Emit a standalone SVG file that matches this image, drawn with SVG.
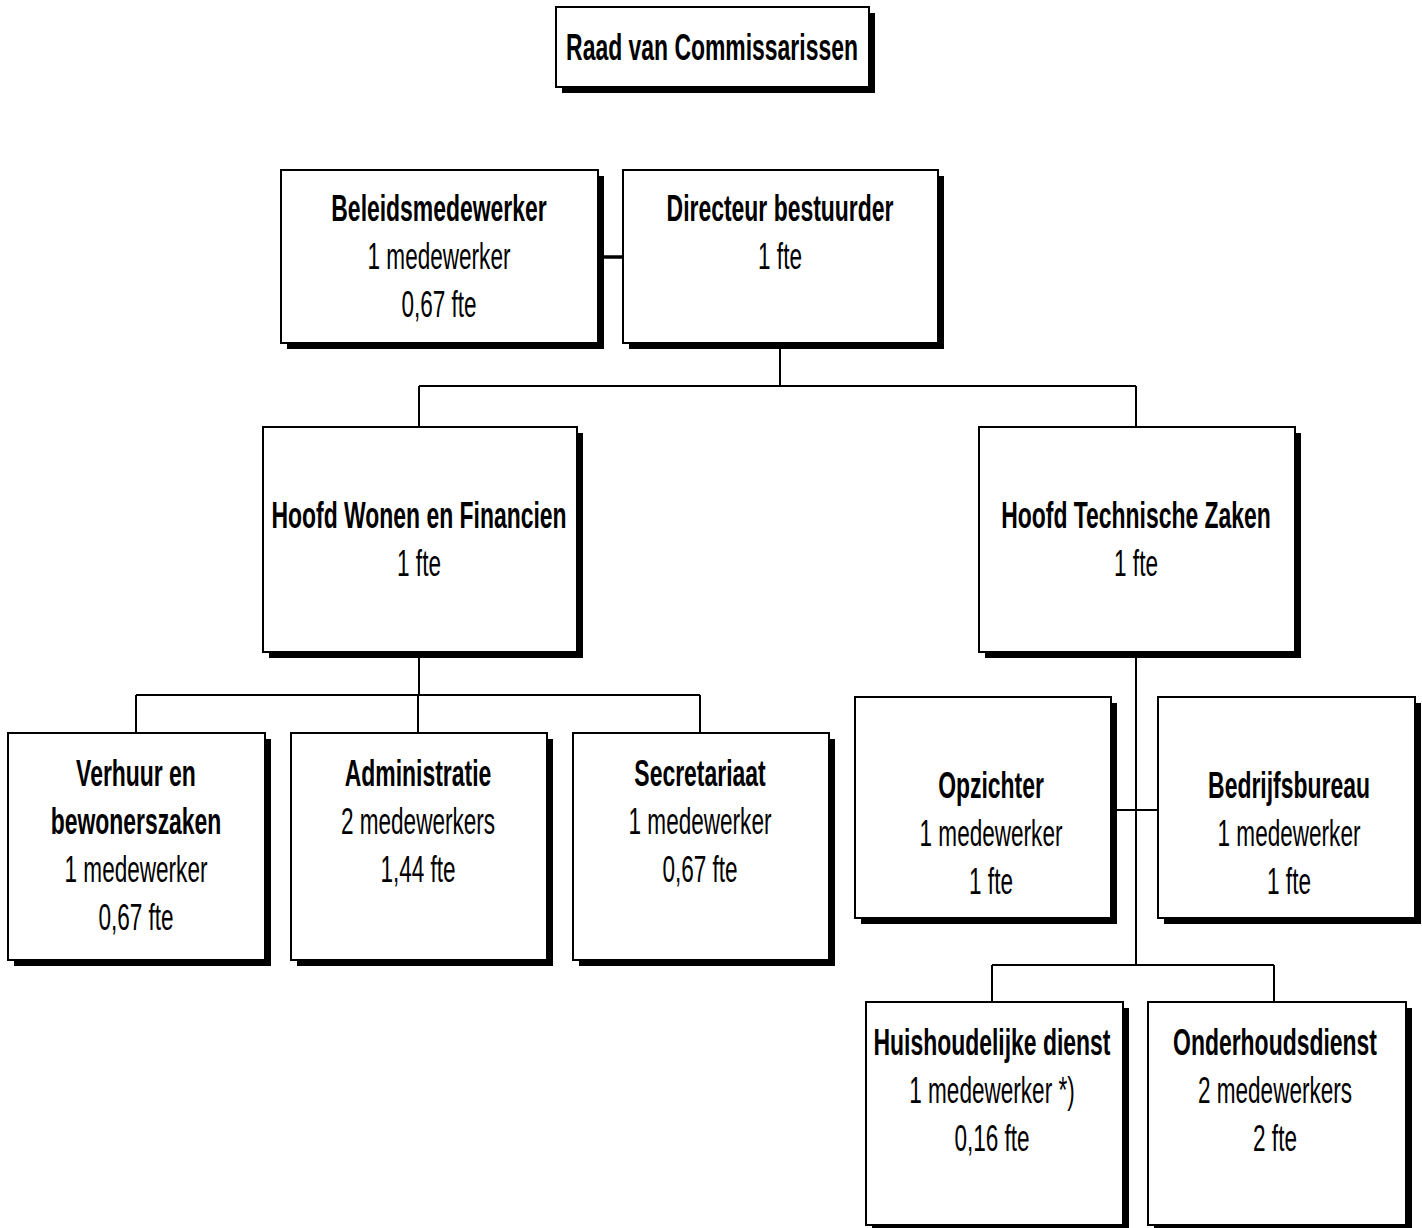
<svg xmlns="http://www.w3.org/2000/svg" width="1422" height="1228" viewBox="0 0 1422 1228">
<style>
.sh{fill:#000}
.bx{fill:#fff;stroke:#000;stroke-width:2}
text{font-family:"Liberation Sans",Arial,sans-serif;font-size:37px;text-anchor:middle;fill:#000}
.b{font-weight:bold}
.ln{fill:none;stroke:#000;stroke-width:2}
.thk{fill:none;stroke:#000;stroke-width:3.5}
</style>
<rect width="1422" height="1228" fill="#fff"/>
<g id="connectors">
<path class="ln" d="M780 343V386M419 386H1136M419 386V427M1136 386V427"/>
<path class="thk" d="M598 257H628"/>
<path class="ln" d="M419 652V695M136 695H700M136 695V733M418 695V733M700 695V733"/>
<path class="ln" d="M1136 652V965M1111 810H1158M992 965H1274M992 965V1002M1274 965V1002"/>
</g>
<g id="raad"><rect class="sh" x="562" y="13" width="313" height="80"/><rect class="bx" x="556" y="7" width="313" height="80"/><text class="b" transform="matrix(0.62 0 0 1 712 60)">Raad van Commissarissen</text></g>
<g id="beleid"><rect class="sh" x="287" y="176" width="317" height="173"/><rect class="bx" x="281" y="170" width="317" height="173"/><text class="b" transform="matrix(0.62 0 0 1 439 221)">Beleidsmedewerker</text><text transform="matrix(0.61 0 0 1 439 269)">1 medewerker</text><text transform="matrix(0.61 0 0 1 439 317)">0,67 fte</text></g>
<g id="directeur"><rect class="sh" x="629" y="176" width="315" height="173"/><rect class="bx" x="623" y="170" width="315" height="173"/><text class="b" transform="matrix(0.62 0 0 1 780 221)">Directeur bestuurder</text><text transform="matrix(0.61 0 0 1 780 269)">1 fte</text></g>
<g id="hwf"><rect class="sh" x="269" y="433" width="314" height="225"/><rect class="bx" x="263" y="427" width="314" height="225"/><text class="b" transform="matrix(0.62 0 0 1 419 528)">Hoofd Wonen en Financien</text><text transform="matrix(0.61 0 0 1 419 576)">1 fte</text></g>
<g id="htz"><rect class="sh" x="985" y="433" width="316" height="225"/><rect class="bx" x="979" y="427" width="316" height="225"/><text class="b" transform="matrix(0.62 0 0 1 1136 528)">Hoofd Technische Zaken</text><text transform="matrix(0.61 0 0 1 1136 576)">1 fte</text></g>
<g id="verhuur"><rect class="sh" x="14" y="739" width="257" height="227"/><rect class="bx" x="8" y="733" width="257" height="227"/><text class="b" transform="matrix(0.62 0 0 1 136 786)">Verhuur en</text><text class="b" transform="matrix(0.62 0 0 1 136 834)">bewonerszaken</text><text transform="matrix(0.61 0 0 1 136 882)">1 medewerker</text><text transform="matrix(0.61 0 0 1 136 930)">0,67 fte</text></g>
<g id="admin"><rect class="sh" x="297" y="739" width="256" height="227"/><rect class="bx" x="291" y="733" width="256" height="227"/><text class="b" transform="matrix(0.62 0 0 1 418 786)">Administratie</text><text transform="matrix(0.61 0 0 1 418 834)">2 medewerkers</text><text transform="matrix(0.61 0 0 1 418 882)">1,44 fte</text></g>
<g id="secr"><rect class="sh" x="579" y="739" width="256" height="227"/><rect class="bx" x="573" y="733" width="256" height="227"/><text class="b" transform="matrix(0.62 0 0 1 700 786)">Secretariaat</text><text transform="matrix(0.61 0 0 1 700 834)">1 medewerker</text><text transform="matrix(0.61 0 0 1 700 882)">0,67 fte</text></g>
<g id="opz"><rect class="sh" x="861" y="703" width="256" height="221"/><rect class="bx" x="855" y="697" width="256" height="221"/><text class="b" transform="matrix(0.62 0 0 1 991 798)">Opzichter</text><text transform="matrix(0.61 0 0 1 991 846)">1 medewerker</text><text transform="matrix(0.61 0 0 1 991 894)">1 fte</text></g>
<g id="bedr"><rect class="sh" x="1164" y="703" width="257" height="221"/><rect class="bx" x="1158" y="697" width="257" height="221"/><text class="b" transform="matrix(0.62 0 0 1 1289 798)">Bedrijfsbureau</text><text transform="matrix(0.61 0 0 1 1289 846)">1 medewerker</text><text transform="matrix(0.61 0 0 1 1289 894)">1 fte</text></g>
<g id="huis"><rect class="sh" x="872" y="1008" width="257" height="223"/><rect class="bx" x="866" y="1002" width="257" height="223"/><text class="b" transform="matrix(0.62 0 0 1 992 1055)">Huishoudelijke dienst</text><text transform="matrix(0.61 0 0 1 992 1103)">1 medewerker *)</text><text transform="matrix(0.61 0 0 1 992 1151)">0,16 fte</text></g>
<g id="onder"><rect class="sh" x="1154" y="1008" width="258" height="223"/><rect class="bx" x="1148" y="1002" width="258" height="223"/><text class="b" transform="matrix(0.62 0 0 1 1275 1055)">Onderhoudsdienst</text><text transform="matrix(0.61 0 0 1 1275 1103)">2 medewerkers</text><text transform="matrix(0.61 0 0 1 1275 1151)">2 fte</text></g>
</svg>
